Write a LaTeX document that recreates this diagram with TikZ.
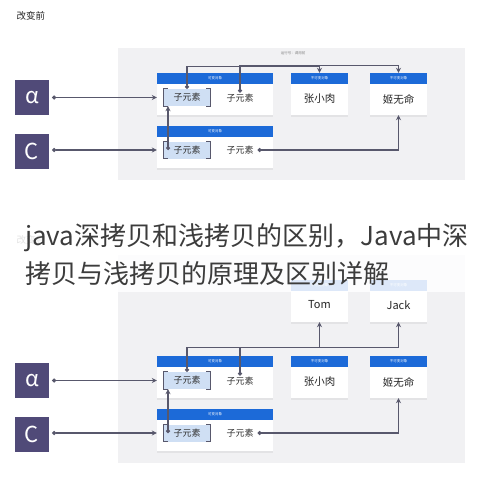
\documentclass[tikz,border=0pt]{standalone}
\usepackage{fontspec}
\setmainfont{Noto Sans CJK SC}
\usetikzlibrary{arrows.meta, shadows}
\definecolor{boxblue}{RGB}{28,106,216}
\definecolor{panelgray}{RGB}{241,241,243}
\definecolor{squarepurple}{RGB}{80,74,120}
\definecolor{linegray}{RGB}{88,88,108}
\definecolor{elemblue}{RGB}{207,223,244}
\definecolor{textgray}{RGB}{60,60,60}

\begin{document}
\begin{tikzpicture}[
    x=1pt, y=-1pt,
    square/.style={rectangle, fill=squarepurple, minimum width=34pt, minimum height=35pt, inner sep=0pt, text=white, font=\fontsize{22}{22}\selectfont},
    objbox/.style={rectangle, fill=white, minimum height=42pt, inner sep=0pt, drop shadow={opacity=0.12, shadow xshift=0pt, shadow yshift=-2pt}},
    header/.style={rectangle, fill=boxblue, minimum height=11pt, inner sep=0pt, anchor=north, text=white, font=\fontsize{3.5}{4}\selectfont},
    elem/.style={inner sep=1pt, text=black!80, font=\fontsize{9}{9}\selectfont},
    elembox/.style={elem, fill=elemblue, minimum width=46pt, minimum height=17pt},
    bracket/.style={line width=1.3pt, linegray},
    person/.style={text=black!85, font=\fontsize{10.5}{10.5}\selectfont},
    arrow/.style={{Circle[length=4pt]}-{Stealth[length=5pt, width=5pt]}, line width=1.2pt, linegray}
]
\fill[white] (0,0) rectangle (490,490);
\useasboundingbox (0,0) rectangle (490,490);

\node[anchor=west, text=black!85, font=\fontsize{9.5}{9.5}\selectfont] (before) at (13,16) {改变前};
\node[anchor=west, text=textgray, font=\fontsize{9.5}{9.5}\selectfont] (after) at (13,240) {改变后};

\fill[panelgray] (118,48) rectangle (465,180);
\fill[panelgray] (118,255) rectangle (465,463);
\node[text=gray, font=\fontsize{3.5}{4}\selectfont] (runlabel) at (293,53) {运行号：调用前};

\foreach \p/\dy in {t/0, b/-283} {
  \begin{scope}[yshift=\dy]
    \node[square] (sqa\p) at (32,97.5) {α};
    \node[square] (sqc\p) at (32,151.5) {C};

    \node[objbox, minimum width=116pt] (obja\p) at (215,94) {};
    \node[header, minimum width=116pt] at (obja\p.north) {可变对象};
    \node[objbox, minimum width=116pt] (objc\p) at (215,147) {};
    \node[header, minimum width=116pt] at (objc\p.north) {可变对象};

    \node[objbox, minimum width=57pt] (zhang\p) at (319.5,94) {};
    \node[header, minimum width=57pt] at (zhang\p.north) {不可变对象};
    \node[person] at (319.5,99) {张小肉};
    \node[objbox, minimum width=57pt] (ji\p) at (398.5,94) {};
    \node[header, minimum width=57pt] at (ji\p.north) {不可变对象};
    \node[person] at (398.5,99) {姬无命};

    \node[elembox] (elemaa\p) at (187,97.5) {子元素};
    \node[elem] (elemab\p) at (240,98) {子元素};
    \node[elembox] (elemca\p) at (187,150) {子元素};
    \node[elem] (elemcb\p) at (240,150) {子元素};

    \foreach \e in {elemaa\p, elemca\p} {
      \draw[bracket] ([xshift=4pt]\e.north west) -- (\e.north west) -- (\e.south west) -- ([xshift=4pt]\e.south west);
      \draw[bracket] ([xshift=-4pt]\e.north east) -- (\e.north east) -- (\e.south east) -- ([xshift=-4pt]\e.south east);
    }

    \draw[arrow] ([xshift=3pt]sqa\p.east |- elemaa\p) -- (elemaa\p -| obja\p.west);
    \draw[arrow] ([xshift=3pt]sqc\p.east |- elemca\p) -- (elemca\p -| objc\p.west);
    \draw[arrow] ([xshift=-19pt]elemca\p.center) -- ([xshift=-19pt]elemaa\p.south);
    \draw[arrow] ([xshift=3pt]elemcb\p.east) -| (ji\p.south);
  \end{scope}
}

\draw[arrow] (elemaat.north) -- ++(0,-22) -| (zhangt.north);
\draw[arrow] (elemabt.north) -- ++(0,-27) -| (jit.north);

\node[objbox, minimum width=57pt] (tom) at (319.5,301) {};
\node[header, minimum width=57pt] at (tom.north) {不可变对象};
\node[person, font=\fontsize{11}{11}\selectfont] at (319.5,305) {Tom};
\node[objbox, minimum width=57pt] (jack) at (398.5,301) {};
\node[header, minimum width=57pt] at (jack.north) {不可变对象};
\node[person, font=\fontsize{11}{11}\selectfont] at (398.5,305) {Jack};

\draw[arrow] (elemaab.north) -- ++(0,-24) -| (tom.south);
\draw[arrow] (elemabb.north) -- ++(0,-28) -| (jack.south);

\fill[white, opacity=0.85] (0,200) rectangle (490,292);
\node[anchor=base west, inner sep=0pt, text=textgray, font=\fontsize{26}{26}\selectfont] (title1) at (25,245) {java深拷贝和浅拷贝的区别，Java中深};
\node[anchor=base west, inner sep=0pt, text=textgray, font=\fontsize{26}{26}\selectfont] (title2) at (25,283) {拷贝与浅拷贝的原理及区别详解};
\end{tikzpicture}
\end{document}
